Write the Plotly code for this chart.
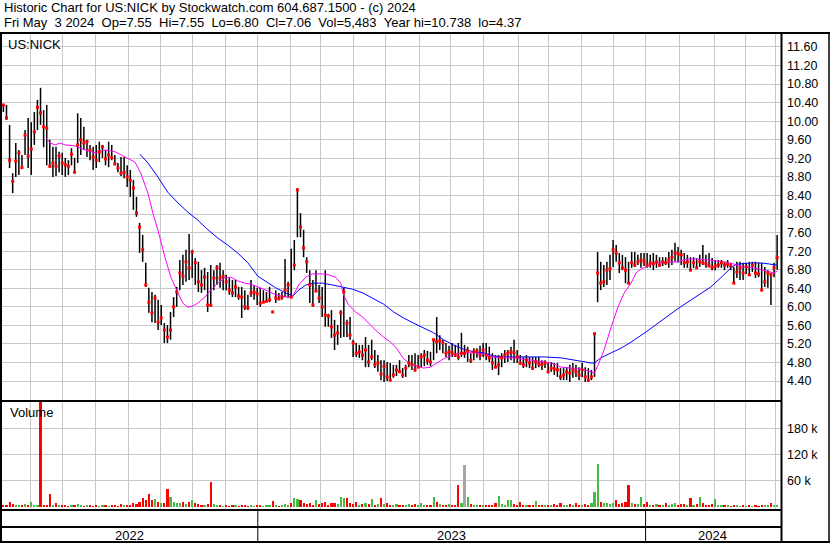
import plotly.graph_objects as go

# ---------------- data (one bar per two trading days, Jun 2022 - May 3 2024) -------------
high = [
    10.37, 10.35, 9.92, 8.88, 9.53, 9.38, 9.27, 9.81, 10.07, 9.98,
    10.20, 10.46, 10.72, 10.24, 10.35, 9.60, 9.45, 9.45, 9.34, 9.32,
    9.21, 9.16, 9.42, 9.21, 10.17, 10.07, 9.88, 9.60, 9.49, 9.45,
    9.49, 9.56, 9.49, 9.38, 9.56, 9.49, 9.27, 9.10, 9.23, 9.23,
    9.05, 8.95, 8.73, 8.37, 7.81, 7.55, 6.95, 6.41, 6.32, 6.26,
    6.15, 6.04, 5.65, 5.61, 5.89, 6.21, 6.43, 7.01, 7.12, 7.23,
    7.57, 7.23, 7.05, 6.97, 6.79, 6.84, 6.75, 6.90, 6.79, 6.90,
    6.95, 6.79, 6.69, 6.62, 6.58, 6.58, 6.43, 6.43, 6.36, 6.26,
    6.58, 6.47, 6.41, 6.41, 6.36, 6.32, 6.43, 5.91, 6.36, 6.30,
    6.32, 7.03, 6.54, 7.25, 7.44, 8.56, 8.02, 7.66, 7.07, 6.79,
    6.58, 6.79, 6.47, 6.43, 6.79, 5.85, 5.93, 5.72, 5.61, 5.93,
    6.41, 5.72, 5.78, 5.29, 5.22, 5.18, 5.18, 5.35, 5.18, 5.29,
    5.07, 4.96, 4.85, 4.85, 4.81, 4.79, 4.75, 4.75, 4.85, 4.68,
    4.75, 4.96, 4.96, 5.00, 4.96, 5.00, 5.07, 5.05, 5.03, 5.29,
    5.78, 5.39, 5.29, 5.22, 5.16, 5.22, 5.18, 5.22, 5.44, 5.18,
    5.14, 5.00, 5.11, 5.11, 5.16, 5.22, 5.22, 5.14, 5.00, 4.96,
    4.96, 5.00, 5.07, 5.07, 5.14, 5.29, 5.07, 4.96, 4.92, 4.96,
    4.92, 4.92, 4.92, 4.92, 4.85, 4.85, 4.79, 4.81, 4.79, 4.79,
    4.68, 4.68, 4.70, 4.75, 4.79, 4.75, 4.70, 4.79, 4.70, 4.68,
    4.64, 5.44, 7.18, 6.97, 6.90, 6.97, 7.12, 7.44, 7.33, 7.16,
    7.12, 7.07, 6.97, 7.18, 7.18, 7.12, 7.16, 7.16, 7.16, 7.12,
    7.16, 7.12, 7.07, 7.07, 7.07, 7.18, 7.23, 7.38, 7.29, 7.23,
    7.16, 7.12, 7.07, 7.07, 7.05, 7.12, 7.33, 7.12, 7.16, 7.05,
    7.01, 7.01, 7.01, 6.97, 7.01, 6.95, 6.86, 6.97, 6.97, 6.95,
    6.95, 6.97, 6.97, 6.97, 6.95, 6.95, 6.86, 6.79, 6.73, 6.95, 7.55,
]
low = [
    10.20, 10.03, 8.99, 8.45, 8.80, 8.84, 8.99, 9.27, 8.99, 8.84,
    9.49, 9.81, 9.92, 9.44, 9.05, 9.00, 8.80, 8.82, 8.90, 8.84,
    8.80, 8.84, 9.05, 8.90, 9.10, 9.27, 9.38, 9.23, 9.16, 8.95,
    8.99, 9.12, 9.21, 9.05, 9.01, 9.16, 9.05, 8.90, 8.82, 8.77,
    8.58, 8.37, 8.09, 7.94, 7.16, 6.97, 6.43, 5.87, 5.67, 5.65,
    5.50, 5.61, 5.22, 5.22, 5.29, 5.78, 6.00, 6.36, 6.47, 6.54,
    6.58, 6.62, 6.47, 6.32, 6.30, 6.36, 5.89, 6.02, 6.36, 6.47,
    6.41, 6.36, 6.36, 6.26, 6.21, 6.21, 6.15, 5.76, 5.93, 5.93,
    6.21, 6.15, 6.04, 6.00, 6.10, 6.10, 6.10, 5.87, 6.08, 6.15,
    6.15, 6.21, 6.19, 6.19, 6.79, 7.50, 7.50, 7.07, 6.73, 6.08,
    6.00, 6.34, 6.08, 5.78, 5.57, 5.57, 5.33, 5.07, 5.18, 5.33,
    5.35, 5.35, 5.29, 4.92, 4.92, 4.90, 4.85, 4.70, 4.70, 4.85,
    4.68, 4.60, 4.42, 4.38, 4.40, 4.42, 4.47, 4.51, 4.60, 4.47,
    4.49, 4.70, 4.64, 4.60, 4.70, 4.70, 4.72, 4.75, 4.72, 4.85,
    5.00, 5.07, 5.00, 4.92, 4.85, 4.92, 4.92, 4.85, 4.92, 4.90,
    4.81, 4.79, 4.85, 4.90, 4.85, 4.92, 4.85, 4.81, 4.64, 4.68,
    4.53, 4.70, 4.79, 4.81, 4.85, 4.79, 4.79, 4.75, 4.68, 4.70,
    4.68, 4.64, 4.68, 4.70, 4.64, 4.68, 4.57, 4.60, 4.53, 4.49,
    4.42, 4.42, 4.42, 4.38, 4.47, 4.49, 4.42, 4.49, 4.38, 4.38,
    4.42, 4.49, 6.10, 6.36, 6.43, 6.47, 6.58, 6.86, 6.97, 6.73,
    6.79, 6.51, 6.51, 6.84, 6.86, 6.90, 6.84, 6.88, 6.84, 6.84,
    6.79, 6.84, 6.86, 6.88, 6.90, 6.84, 6.90, 6.97, 6.95, 6.90,
    6.84, 6.84, 6.79, 6.84, 6.84, 6.86, 6.90, 6.84, 6.86, 6.79,
    6.79, 6.84, 6.84, 6.79, 6.84, 6.79, 6.51, 6.62, 6.58, 6.58,
    6.71, 6.69, 6.75, 6.62, 6.64, 6.36, 6.43, 6.41, 6.04, 6.64, 6.80,
]
close = [
    10.35, 10.07, 9.16, 8.70, 9.14, 9.32, 9.00, 9.70, 9.25, 9.40,
    9.77, 10.30, 10.18, 9.88, 9.85, 9.03, 9.10, 9.03, 9.25, 9.10,
    9.06, 9.03, 9.29, 8.90, 9.49, 9.60, 9.53, 9.56, 9.38, 9.23,
    9.16, 9.34, 9.45, 9.19, 9.27, 9.21, 9.08, 8.99, 8.88, 8.90,
    8.80, 8.73, 8.56, 8.02, 7.72, 7.23, 6.47, 6.10, 5.87, 6.19,
    5.67, 5.76, 5.50, 5.35, 5.50, 6.00, 6.32, 6.73, 6.66, 6.97,
    6.84, 7.18, 6.95, 6.54, 6.47, 6.64, 6.04, 6.03, 6.62, 6.84,
    6.62, 6.66, 6.54, 6.36, 6.30, 6.43, 6.23, 6.21, 6.00, 5.98,
    6.30, 6.32, 6.28, 6.08, 6.10, 6.12, 6.15, 5.89, 6.19, 6.17,
    6.21, 6.36, 6.47, 6.21, 6.90, 8.52, 7.72, 7.27, 6.97, 6.47,
    6.04, 6.34, 6.19, 6.00, 5.82, 5.80, 5.57, 5.39, 5.44, 5.87,
    6.32, 5.65, 5.39, 5.22, 5.00, 5.03, 4.96, 5.07, 4.81, 4.92,
    4.75, 4.79, 4.55, 4.72, 4.49, 4.42, 4.53, 4.64, 4.60, 4.53,
    4.68, 4.79, 4.75, 4.64, 4.70, 4.92, 4.96, 4.85, 4.81, 5.29,
    5.25, 5.27, 5.22, 5.00, 5.03, 5.01, 4.96, 4.92, 5.00, 5.00,
    5.05, 4.85, 5.03, 5.05, 4.96, 5.07, 4.96, 4.90, 4.79, 4.70,
    4.75, 4.90, 4.96, 5.00, 5.03, 5.01, 4.92, 4.79, 4.75, 4.85,
    4.79, 4.68, 4.81, 4.77, 4.75, 4.79, 4.60, 4.68, 4.66, 4.64,
    4.49, 4.53, 4.60, 4.57, 4.64, 4.60, 4.53, 4.64, 4.49, 4.42,
    4.49, 5.42, 6.73, 6.51, 6.54, 6.79, 6.82, 7.23, 7.16, 6.95,
    6.84, 6.79, 6.51, 6.95, 6.90, 6.97, 7.01, 6.97, 6.90, 6.95,
    6.93, 6.97, 6.90, 6.97, 6.95, 7.01, 7.07, 7.16, 7.14, 7.12,
    6.95, 6.97, 6.79, 6.95, 6.84, 6.97, 6.95, 6.93, 6.88, 6.84,
    6.88, 6.90, 6.95, 6.90, 6.92, 6.88, 6.51, 6.75, 6.84, 6.73,
    6.86, 6.69, 6.90, 6.73, 6.71, 6.36, 6.54, 6.73, 6.69, 6.84, 7.06,
]
volume = [
    4000, 3000, 12000, 6000, 3000, 5000, 4000, 6000, 5000, 11000,
    4000, 5000, 260000, 5000, 4000, 30000, 4000, 9000, 3000, 4000,
    3000, 2000, 4000, 3000, 6000, 3000, 2000, 4000, 3000, 2000,
    3000, 2000, 4000, 3000, 2000, 5000, 3000, 2000, 6000, 3000,
    4000, 5000, 8000, 6000, 12000, 20000, 15000, 30000, 16000, 18000,
    12000, 8000, 10000, 41000, 22000, 12000, 9000, 8000, 11000, 6000,
    12000, 15000, 8000, 6000, 5000, 4000, 7000, 57000, 6000, 5000,
    3000, 2000, 3000, 2000, 4000, 3000, 2000, 3000, 4000, 2000,
    3000, 2000, 4000, 3000, 2000, 3000, 5000, 14000, 3000, 2000,
    4000, 6000, 5000, 8000, 20000, 18000, 16000, 8000, 6000, 10000,
    5000, 17000, 6000, 9000, 12000, 5000, 8000, 10000, 6000, 22000,
    21000, 20000, 8000, 6000, 12000, 5000, 7000, 9000, 6000, 18000,
    5000, 7000, 21000, 6000, 9000, 5000, 4000, 6000, 3000, 5000,
    4000, 7000, 3000, 6000, 4000, 8000, 5000, 4000, 3000, 22000,
    12000, 6000, 5000, 4000, 6000, 3000, 5000, 50000, 8000, 97000,
    22000, 6000, 4000, 5000, 3000, 4000, 5000, 3000, 4000, 8000,
    25000, 6000, 5000, 17000, 15000, 6000, 4000, 12000, 3000, 5000,
    4000, 3000, 14000, 4000, 3000, 5000, 4000, 3000, 6000, 4000,
    8000, 3000, 4000, 6000, 3000, 8000, 4000, 3000, 6000, 5000,
    8000, 35000, 99000, 12000, 8000, 10000, 6000, 9000, 17000, 6000,
    8000, 12000, 50000, 9000, 6000, 7000, 22000, 6000, 12000, 5000,
    4000, 6000, 3000, 5000, 8000, 4000, 6000, 9000, 5000, 7000,
    6000, 4000, 20000, 5000, 6000, 22000, 8000, 5000, 4000, 6000,
    18000, 5000, 3000, 4000, 3000, 2000, 4000, 3000, 2000, 3000,
    2000, 3000, 2000, 3000, 2000, 4000, 3000, 5000, 9000, 4000, 5483,
]

# moving averages, x in bar-index units
ma_short_x = [13.8, 15.1, 16.7, 18.3, 19.9, 23.1, 26.4, 29.6, 32.8, 36.1, 39.3, 42.5, 44.4, 46.7, 48.3,
              49.9, 52.2, 54.1, 56.4, 58.0, 59.6, 61.2, 62.8, 65.1, 67.0, 69.3, 71.5, 73.5, 75.7, 78.0,
              79.9, 82.2, 84.8, 88.0, 91.2, 93.5, 95.4, 97.7, 99.9, 103.1, 105.1, 107.3, 109.0, 109.9,
              111.5, 113.8, 116.1, 118.0, 120.2, 122.8, 125.1, 127.0, 129.3, 131.5, 133.5, 135.7, 138.0,
              139.9, 142.2, 144.4, 146.4, 149.6, 151.9, 155.1, 158.3, 161.5, 164.8, 167.3, 170.6, 173.8,
              177.0, 180.2, 183.5, 186.7, 189.9, 190.9, 192.2, 194.1, 196.4, 198.6, 200.6, 202.8, 204.4,
              206.1, 207.7, 210.2, 213.5, 217.7, 220.9, 224.1, 227.3, 230.2, 232.8, 236.1, 239.3, 242.5,
              245.7, 249.0, 250.0]
ma_short_y = [9.64, 9.53, 9.49, 9.53, 9.49, 9.47, 9.38, 9.32, 9.38, 9.34, 9.23, 9.12, 8.88, 8.45, 8.02,
              7.66, 7.07, 6.64, 6.30, 6.08, 5.99, 6.02, 6.08, 6.21, 6.36, 6.51, 6.62, 6.64, 6.56, 6.51,
              6.49, 6.43, 6.36, 6.26, 6.21, 6.23, 6.47, 6.64, 6.71, 6.71, 6.69, 6.64, 6.51, 6.26,
              6.04, 5.89, 5.78, 5.65, 5.50, 5.35, 5.24, 5.11, 4.88, 4.77, 4.73, 4.68, 4.70,
              4.79, 4.88, 4.94, 4.99, 5.01, 5.01, 4.99, 4.92, 4.90, 4.90, 4.88, 4.85, 4.81,
              4.79, 4.70, 4.68, 4.66, 4.60, 4.57, 4.75, 5.07, 5.57, 6.00, 6.30, 6.51, 6.73,
              6.82, 6.86, 6.95, 6.95, 6.97, 7.03, 7.03, 7.01, 6.99, 6.97, 6.92, 6.86, 6.84,
              6.79, 6.73, 6.77]
ma_long_x = [44.1, 46.7, 49.9, 53.1, 56.4, 59.6, 62.8, 66.1, 69.3, 72.5, 75.7, 79.0, 82.2, 84.8, 88.0,
             91.2, 93.5, 95.4, 97.7, 99.9, 103.1, 106.4, 109.6, 112.8, 116.1, 119.3, 122.8, 126.1, 129.3,
             132.5, 135.7, 139.0, 142.2, 145.4, 148.6, 151.9, 155.1, 158.3, 161.5, 164.8, 174.8, 180.2,
             185.7, 189.9, 190.9, 193.1, 196.4, 199.6, 202.8, 206.1, 207.7, 217.7, 223.1, 228.6, 232.8,
             235.4, 237.0, 242.5, 245.7, 249.9]
ma_long_y = [9.29, 9.10, 8.80, 8.47, 8.24, 8.04, 7.87, 7.66, 7.48, 7.33, 7.16, 6.95, 6.66, 6.54, 6.41,
             6.30, 6.23, 6.36, 6.47, 6.51, 6.51, 6.47, 6.43, 6.38, 6.30, 6.19, 6.06, 5.89, 5.76,
             5.65, 5.54, 5.44, 5.29, 5.18, 5.09, 5.03, 5.01, 4.94, 4.92, 4.92, 4.92, 4.90,
             4.83, 4.79, 4.79, 4.90, 5.01, 5.11, 5.24, 5.39, 5.46, 5.95, 6.19, 6.43, 6.69,
             6.86, 6.92, 6.95, 6.94, 6.90]

month_starts = [8.8, 19.0, 29.6, 40.4, 50.6, 61.2, 71.8, 82.2, 92.8, 102.5, 113.1, 123.3,
                134.3, 144.6, 155.1, 166.4, 176.1, 186.9, 197.1, 207.5, 218.6, 229.9, 239.8, 249.6]
year_starts = [82.2, 207.5]
year_centers = [40.9, 144.9, 229.2]
year_labels = ["2022", "2023", "2024"]
price_ticks = [4.4, 4.8, 5.2, 5.6, 6.0, 6.4, 6.8, 7.2, 7.6, 8.0, 8.4, 8.8,
               9.2, 9.6, 10.0, 10.4, 10.8, 11.2, 11.6]
vol_ticks = [60000, 120000, 180000]
vol_tick_text = ["60 k", "120 k", "180 k"]

header1 = "Historic Chart for US:NICK by Stockwatch.com 604.687.1500 - (c) 2024"
header2 = ("Fri May\u00a0\u00a03 2024\u00a0\u00a0Op=7.55\u00a0\u00a0Hi=7.55\u00a0\u00a0Lo=6.80"
           "\u00a0\u00a0Cl=7.06\u00a0\u00a0Vol=5,483\u00a0\u00a0Year hi=10.738\u00a0\u00a0lo=4.37")

assert len(high) == len(low) == len(close) == len(volume)
assert len(ma_short_x) == len(ma_short_y) and len(ma_long_x) == len(ma_long_y)

# ---------------- figure -------------
W, H = 830, 543
FONT = "Liberation Sans, Arial, sans-serif"
GRID = "#c8c8c8"

def px(x):
    return x / W

def py(y):
    return 1 - y / H

idx = list(range(len(close)))

hl_x, hl_y = [], []
for i in idx:
    hl_x += [i, i, None]
    hl_y += [low[i], high[i], None]

vcolors = []
for i in idx:
    if i == 0 or close[i] < close[i - 1]:
        vcolors.append("#ff0000")
    elif close[i] > close[i - 1]:
        vcolors.append("#46b946")
    else:
        vcolors.append("#a6a6a6")

fig = go.Figure()
fig.add_trace(go.Scatter(x=hl_x, y=hl_y, mode="lines", line=dict(color="black", width=1.5),
                         hoverinfo="skip", xaxis="x", yaxis="y"))
fig.add_trace(go.Scatter(x=ma_long_x, y=ma_long_y, mode="lines", line=dict(color="#0000ff", width=1),
                         xaxis="x", yaxis="y"))
fig.add_trace(go.Scatter(x=ma_short_x, y=ma_short_y, mode="lines", line=dict(color="#ff00ff", width=1),
                         xaxis="x", yaxis="y"))
fig.add_trace(go.Scatter(x=idx, y=close, mode="markers",
                         marker=dict(symbol="square", size=3, color="#ff0000", line=dict(width=0)),
                         xaxis="x", yaxis="y"))
fig.add_trace(go.Bar(x=idx, y=volume, marker=dict(color=vcolors, line=dict(width=0)), width=0.7,
                     xaxis="x2", yaxis="y2"))

xr = [-0.45, 251.25]
xdom = [px(2), px(781)]
common_x = dict(range=xr, domain=xdom, showticklabels=False, tickvals=month_starts,
                showgrid=True, gridcolor=GRID, gridwidth=1, zeroline=False, showline=False, ticks="")
fig.update_layout(
    width=W, height=H, margin=dict(l=0, r=0, t=0, b=0),
    paper_bgcolor="white", plot_bgcolor="white", showlegend=False, bargap=0,
    font=dict(family=FONT, color="black", size=13),
    xaxis=dict(anchor="y", **common_x),
    xaxis2=dict(anchor="y2", matches="x", **common_x),
    yaxis=dict(domain=[py(400), py(34)], range=[3.992, 11.880], side="right", tickvals=price_ticks,
               ticktext=["%.2f" % t for t in price_ticks], showgrid=True, gridcolor=GRID, gridwidth=1,
               zeroline=False, showline=False, ticks="", ticklabelstandoff=5,
               tickfont=dict(family=FONT, size=12.5, color="black")),
    yaxis2=dict(domain=[py(509), py(402)], range=[-4850, 242100], side="right", tickvals=vol_ticks,
                ticktext=vol_tick_text, showgrid=True, gridcolor=GRID, gridwidth=1,
                zeroline=False, showline=False, ticks="", ticklabelstandoff=5,
                tickfont=dict(family=FONT, size=12.5, color="black")),
)

ann = [
    dict(text=header1, x=px(2), y=py(8), xanchor="left", yanchor="middle"),
    dict(text=header2, x=px(2), y=py(22), xanchor="left", yanchor="middle"),
    dict(text="US:NICK", x=px(6), y=py(44), xanchor="left", yanchor="middle"),
    dict(text="Volume", x=px(8), y=py(413), xanchor="left", yanchor="middle"),
]
for a in ann:
    a.update(xref="paper", yref="paper", showarrow=False, font=dict(family=FONT, size=13, color="black"))
for xc, lab in zip(year_centers, year_labels):
    ann.append(dict(text=lab, x=xc, y=py(535), xref="x", yref="paper", xanchor="center", yanchor="middle",
                    showarrow=False, font=dict(family=FONT, size=13, color="black")))
fig.update_layout(annotations=ann)

shapes = []
def hline(y, x0=0, x1=W, w=2):
    shapes.append(dict(type="line", xref="paper", yref="paper", x0=px(x0), x1=px(x1), y0=py(y), y1=py(y),
                       line=dict(color="black", width=w)))
def vline(x, y0, y1, w=2):
    shapes.append(dict(type="line", xref="paper", yref="paper", x0=px(x), x1=px(x), y0=py(y0), y1=py(y1),
                       line=dict(color="black", width=w)))
hline(33)
hline(542)
hline(401, 0, 782)
hline(510, 0, 782)
hline(527, 0, 782)
vline(1, 33, 543)
vline(781.5, 33, 543)
vline(829, 33, 543, 1.5)
for ys in year_starts:
    shapes.append(dict(type="line", xref="x", yref="paper", x0=ys, x1=ys, y0=py(542), y1=py(510),
                       line=dict(color="black", width=1)))
fig.update_layout(shapes=shapes)

fig.write_html("out.html", config={"displayModeBar": False},
               post_script="document.body.style.margin='0';document.body.style.overflow='hidden';")
